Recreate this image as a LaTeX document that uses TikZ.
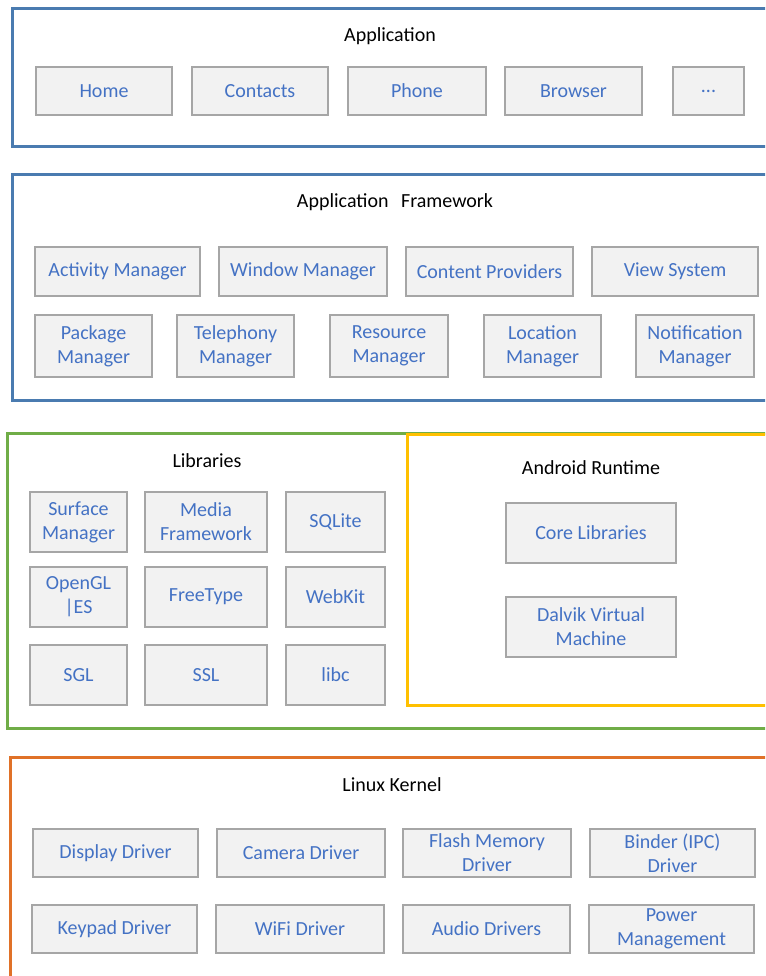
\documentclass[tikz,border=0pt]{standalone}
\usepackage{fontspec}
\setmainfont{Carlito}
\definecolor{appblue}{HTML}{4A7BB0}
\definecolor{libgreen}{HTML}{70AD47}
\definecolor{rtyellow}{HTML}{FFC000}
\definecolor{kernorange}{HTML}{E07128}
\definecolor{txtblue}{HTML}{4472C4}
\definecolor{boxgray}{HTML}{A6A6A6}
\definecolor{boxfill}{HTML}{F2F2F2}
\tikzset{
  comp/.style={draw=boxgray, fill=boxfill, line width=2.8pt, inner sep=0pt,
    align=center, text=txtblue, font=\fontsize{20}{24}\selectfont},
  layer/.style={draw=#1, line width=2.6pt, inner sep=0pt, anchor=north west},
  ttl/.style={text=black, font=\fontsize{20}{24}\selectfont, inner sep=0pt}
}
\begin{document}
\begin{tikzpicture}[x=1pt,y=-1pt]
\useasboundingbox (0,0) rectangle (765,976);
\clip (0,0) rectangle (765,976);
\fill[white] (0,0) rectangle (765,976);
% Application layer
\node[layer=appblue, minimum width=800pt, minimum height=138pt] (applayer) at (11,7) {};
\node[ttl] (apptitle) at (390,36) {Application};
\begin{scope}[every node/.style={comp, minimum height=48pt}]
\node[minimum width=136pt] (home) at (104,91) {Home};
\node[minimum width=136pt] (contacts) at (260,91) {Contacts};
\node[minimum width=138pt] (phone) at (417,91) {Phone};
\node[minimum width=137pt] (browser) at (573.5,91) {Browser};
\node[minimum width=71pt] (more) at (708.5,91) {...};
\end{scope}
% Application framework
\node[layer=appblue, minimum width=800pt, minimum height=226pt] (fwlayer) at (11,173) {};
\node[ttl] (fwtitle) at (395,202) {Application\hspace{0.4em} Framework};
\begin{scope}[every node/.style={comp, minimum height=49pt}]
\node[minimum width=165pt] (activity) at (117.5,271.5) {Activity Manager};
\node[minimum width=168pt] (window) at (303,271.5) {Window Manager};
\node[minimum width=167pt] (content) at (489.5,271.5) {Content Providers};
\node[minimum width=166pt] (view) at (675,271.5) {View System};
\end{scope}
\begin{scope}[every node/.style={comp, minimum height=62pt}]
\node[minimum width=117pt] (package) at (93.5,346) {Package\\Manager};
\node[minimum width=117pt] (telephony) at (235.5,346) {Telephony\\Manager};
\node[minimum width=118pt] (resource) at (389,346) {Resource\\Manager};
\node[minimum width=117pt] (location) at (542.5,346) {Location\\Manager};
\node[minimum width=118pt] (notification) at (695,346) {Notification\\Manager};
\end{scope}
% Libraries
\node[layer=libgreen, minimum width=800pt, minimum height=295pt] (liblayer) at (6,432) {};
\node[layer=rtyellow, minimum width=400pt, minimum height=271pt] (rtlayer) at (406,433) {};
\node[ttl] (libtitle) at (207,461) {Libraries};
\begin{scope}[every node/.style={comp, minimum height=60pt}]
\node[minimum width=97pt] (surface) at (78.5,522) {Surface\\Manager};
\node[minimum width=122pt] (media) at (206,522) {Media\\Framework};
\node[minimum width=99pt] (sqlite) at (335.5,522) {SQLite};
\node[minimum width=97pt] (opengl) at (78.5,597) {OpenGL\\|ES};
\node[minimum width=122pt] (freetype) at (206,597) {FreeType};
\node[minimum width=99pt] (webkit) at (335.5,597) {WebKit};
\node[minimum width=97pt] (sgl) at (78.5,675) {SGL};
\node[minimum width=122pt] (ssl) at (206,675) {SSL};
\node[minimum width=99pt] (libc) at (335.5,675) {libc};
\end{scope}
% Android runtime
\node[ttl] (rttitle) at (591,468) {Android Runtime};
\begin{scope}[every node/.style={comp, minimum height=60pt, minimum width=170pt}]
\node (core) at (591,533) {Core Libraries};
\node (dalvik) at (591,627) {Dalvik Virtual\\Machine};
\end{scope}
% Linux kernel
\node[layer=kernorange, minimum width=800pt, minimum height=260pt] (kernlayer) at (9,756) {};
\node[ttl] (kerntitle) at (392,785) {Linux Kernel};
\begin{scope}[every node/.style={comp, minimum height=48pt}]
\node[minimum width=165pt] (display) at (115.5,853) {Display Driver};
\node[minimum width=168pt] (camera) at (301,853) {Camera Driver};
\node[minimum width=168pt] (flash) at (487,853) {Flash Memory\\Driver};
\node[minimum width=165pt] (binder) at (672.5,853) {Binder (IPC)\\Driver};
\node[minimum width=165pt] (keypad) at (114.5,929) {Keypad Driver};
\node[minimum width=168pt] (wifi) at (300,929) {WiFi Driver};
\node[minimum width=167pt] (audio) at (486.5,929) {Audio Drivers};
\node[minimum width=165pt] (power) at (671.5,929) {Power\\Management};
\end{scope}
\end{tikzpicture}
\end{document}
